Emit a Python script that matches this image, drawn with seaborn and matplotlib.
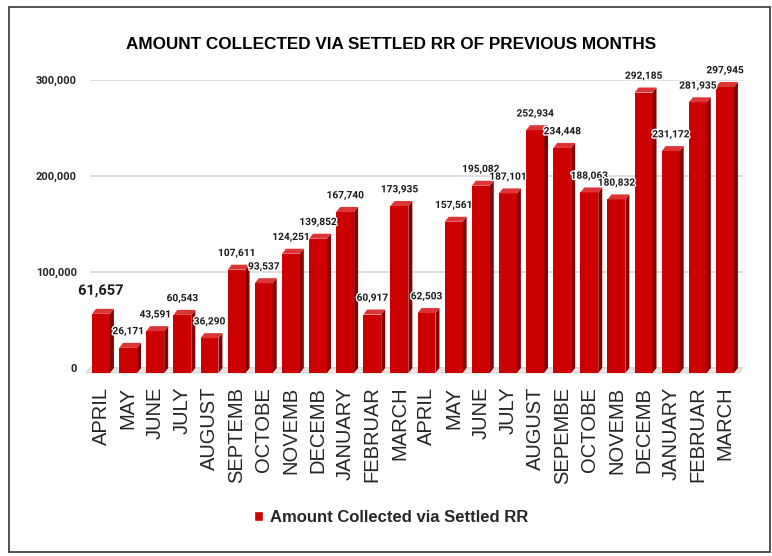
import numpy as np
import pandas as pd
import matplotlib
matplotlib.use("Agg")
import matplotlib.pyplot as plt
import seaborn as sns
import matplotlib.patheffects as pe
from matplotlib.patches import Polygon, Rectangle, Patch
from matplotlib.transforms import IdentityTransform, ScaledTranslation
from matplotlib.ticker import FuncFormatter

# ---------- data ----------
months = ["APRIL", "MAY", "JUNE", "JULY", "AUGUST", "SEPTEMB", "OCTOBE", "NOVEMB",
          "DECEMB", "JANUARY", "FEBRUAR", "MARCH",
          "APRIL", "MAY", "JUNE", "JULY", "AUGUST", "SEPEMBE", "OCTOBE", "NOVEMB",
          "DECEMB", "JANUARY", "FEBRUAR", "MARCH"]
amounts = [61657, 26171, 43591, 60543, 36290, 107611, 93537, 124251, 139852, 167740,
           60917, 173935, 62503, 157561, 195082, 187101, 252934, 234448, 188063, 180832,
           292185, 231172, 281935, 297945]
y_ticks = [0, 100000, 200000, 300000]
title = "AMOUNT COLLECTED VIA SETTLED RR OF PREVIOUS MONTHS"
series_name = "Amount Collected via Settled RR"

FRONT, SIDE, TOP = "#cc0000", "#860000", "#dc3535"
DX, DY = 4, 5          # 3D depth in pixels

df = pd.DataFrame({"pos": range(len(amounts)), "amount": amounts})

sns.set_theme(style="white")
plt.rcParams["font.family"] = ["Roboto", "DejaVu Sans"]

W, H = 772, 556
fig = plt.figure(figsize=(W / 100, H / 100), dpi=100)
ax = fig.add_axes([90 / W, 1 - 368 / H, 653 / W, 288 / H])

sns.barplot(data=df, x="pos", y="amount", color=FRONT, saturation=1, width=0.66,
            ax=ax, zorder=3)
bars = [p for p in ax.patches if isinstance(p, Rectangle)]
ax.set_xlim(-0.404, 23.665)
ax.set_ylim(0, 300000)
ax.set_yticks(y_ticks)
ax.yaxis.set_major_formatter(FuncFormatter(lambda v, _: f"{int(v):,}"))
ax.yaxis.grid(True, color="#d9d9d9", lw=1.2)
ax.set_axisbelow(True)
for s in ax.spines.values():
    s.set_visible(False)
ax.set_xlabel(""); ax.set_ylabel("")
ax.set_xticks(range(len(months)))
ax.set_xticklabels(months, rotation=90, fontsize=14.5, family="Liberation Sans",
                   ha="center", va="top")
ax.tick_params(axis="x", length=0, pad=13.5)
ax.tick_params(axis="y", length=0, pad=9.5)
for t in ax.get_yticklabels():
    t.set_fontsize(8); t.set_fontweight("bold")

# floor under the bars
(ax0, ay0), (ax1, _) = ax.transAxes.transform([(0, 0), (1, 1)])
floor = Polygon([(ax0, ay0), (ax1, ay0), (ax1 - DX, ay0 - DY), (ax0 - DX, ay0 - DY)],
                closed=True, transform=IdentityTransform(), fc="#e6e6e6", ec="#d0d0d0",
                lw=0.6, zorder=2, clip_on=False)
ax.add_artist(floor)

# pseudo 3D: shift front faces down, add side and top faces
shift = ScaledTranslation(0, -DY / 100, fig.dpi_scale_trans)
for p in bars:
    x0, w, h = p.get_x(), p.get_width(), p.get_height()
    p.set_transform(ax.transData + shift)
    p.set_clip_on(False)
    p.set_edgecolor("none")
    (X0, Y0), (X1, Y1) = ax.transData.transform([(x0, 0), (x0 + w, h)])
    side = Polygon([(X1, Y0 - DY), (X1, Y1 - DY), (X1 + DX, Y1), (X1 + DX, Y0)],
                   closed=True, transform=IdentityTransform(), fc=SIDE, ec="none",
                   zorder=3, clip_on=False)
    top = Polygon([(X0, Y1 - DY), (X1, Y1 - DY), (X1 + DX, Y1), (X0 + DX, Y1)],
                  closed=True, transform=IdentityTransform(), fc=TOP, ec="none",
                  zorder=3, clip_on=False)
    ax.add_artist(side); ax.add_artist(top)

# value labels
halo = [pe.withStroke(linewidth=2, foreground="white")]
for i, v in enumerate(amounts):
    big = i == 0
    ax.annotate(f"{v:,}", (i, v), xytext=(0, 13 if big else 8.3), textcoords="offset points",
                ha="center", va="center", fontsize=10.5 if big else 7.3,
                fontweight="bold", color="#1a1a1a", path_effects=halo, zorder=5,
                annotation_clip=False)

fig.text(391 / W, 1 - 45 / H, title, ha="center", va="center", fontsize=12.3,
         fontweight="bold", family="Liberation Sans", color="black")

fig.legend(handles=[Patch(facecolor=FRONT)], labels=[series_name], loc="center",
           bbox_to_anchor=(391 / W, 1 - 517 / H), frameon=False,
           prop={"family": "Liberation Sans", "weight": "bold", "size": 12.0},
           handlelength=0.55, handleheight=0.55, handletextpad=0.45)

fig.add_artist(Rectangle((9 / W, 1 - 552 / H), 761 / W, 545 / H, transform=fig.transFigure,
                         fill=False, ec="#333333", lw=1.2))

fig.savefig("out.png", dpi=100)
